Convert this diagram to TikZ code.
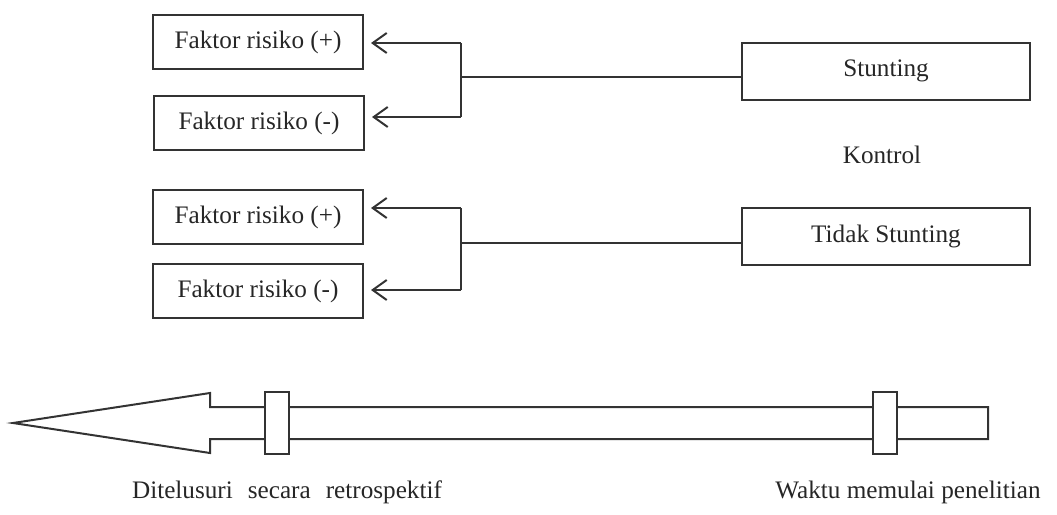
\documentclass[tikz,border=0pt]{standalone}
\usepackage{fontspec}
\setmainfont{Liberation Serif}
\usetikzlibrary{arrows.meta}

\tikzset{
  riskbox/.style={draw, minimum width=105pt, minimum height=27pt, inner sep=0pt},
  groupbox/.style={draw, minimum width=144pt, minimum height=28.5pt, inner sep=0pt},
  backarr/.style={-{Straight Barb[length=7pt,width=10pt]}, shorten >=3.5pt},
}

\begin{document}
\begin{tikzpicture}[x=0.5pt, y=-0.5pt, line width=1pt, draw=black!80, text=black!85,
    font=\fontsize{12.6}{15}\selectfont]
    \useasboundingbox (0,0) rectangle (1057,515);

    % kasus
    \node[riskbox] (fa1) at (258,42) {Faktor risiko (+)};
    \node[riskbox] (fb1) at (259,123) {Faktor risiko (-)};
    \node[groupbox] (st) at (886,71) {Stunting};
    \coordinate (j1) at (461,77);
    \coordinate (ja1) at (461,43);
    \coordinate (jb1) at (461,117);
    \draw (st.west |- j1) -- (j1);
    \draw (ja1) -- (jb1);
    \draw[backarr] (ja1) -- (ja1 -| fa1.east);
    \draw[backarr] (jb1) -- (jb1 -| fb1.east);

    \node (kt) at (882,155) {Kontrol};

    % kontrol
    \node[riskbox] (fa2) at (258,217) {Faktor risiko (+)};
    \node[riskbox] (fb2) at (258,291) {Faktor risiko (-)};
    \node[groupbox] (ts) at (886,236) {Tidak Stunting};
    \coordinate (j2) at (461,243);
    \coordinate (ja2) at (461,208);
    \coordinate (jb2) at (461,290);
    \draw (ts.west |- j2) -- (j2);
    \draw (ja2) -- (jb2);
    \draw[backarr] (ja2) -- (ja2 -| fa2.east);
    \draw[backarr] (jb2) -- (jb2 -| fb2.east);

    % garis waktu
    \draw (13,423) -- (210,393) -- (210,407) -- (988,407) -- (988,439)
        -- (210,439) -- (210,453) -- cycle;
    \draw[fill=white] (265,392) rectangle (289,454);
    \draw[fill=white] (873,392) rectangle (897,454);

    \node (rt) at (287,492) {Ditelusuri\hspace{7.5pt}secara\hspace{7.5pt}retrospektif};
    \node (wm) at (908,492) {Waktu memulai penelitian};
\end{tikzpicture}
\end{document}
